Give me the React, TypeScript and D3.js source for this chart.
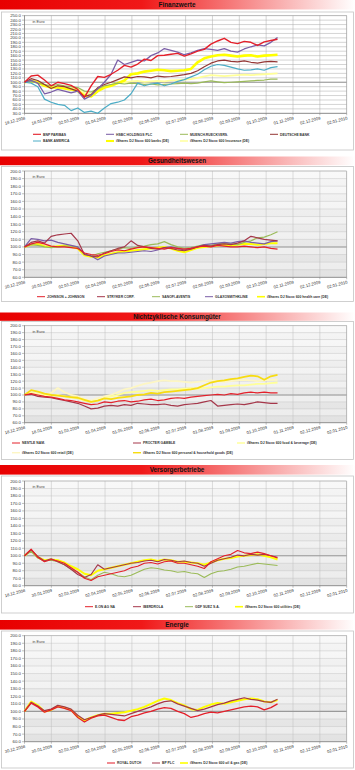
import React from 'react';
import * as d3 from 'd3';

// ---------- DATA ----------
const SAMPLE_STEP = 0.248; // months (x-axis tick units) between samples

const X_LABELS_1 = ["18.12.2008","18.01.2009","02.03.2009","01.04.2009","02.05.2009","02.06.2009","02.07.2009","02.08.2009","02.09.2009","01.10.2009","01.11.2009","02.12.2009","02.01.2010"];
const X_LABELS_2 = ["30.12.2008","30.01.2009","02.03.2009","02.04.2009","02.05.2009","02.06.2009","02.07.2009","02.08.2009","02.09.2009","02.10.2009","02.11.2009","02.12.2009","02.01.2010"];
const X_LABELS_3 = ["18.12.2008","18.01.2009","01.03.2009","01.04.2009","01.05.2009","02.06.2009","02.07.2009","01.08.2009","01.09.2009","01.10.2009","01.11.2009","02.12.2009","02.01.2010"];
const X_LABELS_4 = ["18.12.2008","30.01.2009","02.03.2009","02.04.2009","02.05.2009","02.06.2009","02.07.2009","02.08.2009","02.09.2009","02.10.2009","02.11.2009","02.12.2009","02.01.2010"];
const X_LABELS_5 = ["30.12.2008","30.01.2009","02.03.2009","02.04.2009","02.05.2009","02.06.2009","02.07.2009","02.08.2009","02.09.2009","02.10.2009","02.11.2009","02.12.2009","02.01.2010"];

// Finanzwerte
const BNP = [100,114,116,105,92,100,97,93,84,66,92,113,111,118,127,138,134,141,152,149,160,161,163,165,159,164,170,174,186,193,199,190,187,192,190,183,191,194,197];
const HSBC = [100,104,98,74,78,84,80,76,80,62,70,85,100,118,150,140,145,150,148,160,166,176,172,168,162,166,172,176,174,172,176,170,168,175,180,184,182,190,201];
const MUENCH = [100,102,98,95,92,95,92,90,88,80,78,85,92,95,98,96,98,97,95,96,94,95,96,97,98,97,98,101,103,101,99,100,101,102,103,104,105,107,107];
const DEUTSCHE = [100,108,104,95,86,92,90,85,80,68,72,88,95,100,106,112,110,113,112,110,114,112,113,115,117,120,126,135,143,148,150,147,146,148,145,143,146,147,146];
const BANKAM = [100,98,90,62,55,50,48,36,42,32,35,30,42,52,55,60,74,98,92,96,98,92,96,102,106,112,118,128,136,140,138,134,130,127,128,130,127,133,135];
const BANKS_ETF = [100,103,100,92,88,88,86,84,80,70,68,80,88,92,98,104,118,120,124,126,128,127,125,126,127,130,145,154,158,161,162,160,158,160,161,158,160,161,162];
const INSUR_ETF = [100,103,100,94,90,92,90,88,86,76,74,82,90,94,98,100,102,103,101,102,103,102,104,105,106,107,110,113,116,115,114,115,116,117,116,117,118,119,120];

// Gesundheitswesen
const JNJ = [100,104,106,104,101,100,100,99,98,92,90,89,91,94,96,95,97,99,100,99,98,97,99,98,97,98,100,101,100,102,101,100,100,101,100,99,100,98,97];
const STRYKER = [100,106,108,105,114,116,117,118,108,90,88,87,92,95,98,100,108,102,100,98,97,99,98,96,95,97,100,102,101,103,104,103,105,108,114,112,110,109,108];
const SANOFI = [100,103,102,100,99,100,101,101,100,90,88,91,93,95,97,99,98,100,101,103,104,107,103,100,98,99,101,103,102,104,105,104,103,106,108,112,113,116,120];
const GLAXO = [100,111,110,108,109,106,104,102,100,91,88,83,88,90,92,92,93,94,95,94,96,99,100,98,96,98,100,103,104,105,106,105,107,108,106,105,104,107,108];
const HEALTH_ETF = [100,103,104,101,100,101,102,100,98,89,87,86,89,91,93,94,95,96,97,98,99,100,98,95,93,96,99,100,101,102,103,102,103,104,104,103,104,105,105];

// Nichtzyklische Konsumgüter
const NESTLE = [100,102,100,98,97,95,93,92,90,88,86,87,90,89,91,92,90,91,93,94,92,93,95,96,95,97,98,99,100,101,100,102,101,103,104,103,104,103,103];
const PG = [100,101,98,97,96,94,92,90,88,84,80,81,84,85,84,86,85,88,87,86,86,87,85,84,86,87,88,90,92,84,85,86,87,86,88,90,89,88,88];
const FOOD_ETF = [100,103,101,100,99,100,98,96,95,92,90,92,95,98,100,103,104,105,106,107,106,107,108,108,109,110,109,110,111,112,112,113,114,114,115,116,116,117,118];
const RETAIL_ETF = [100,104,102,100,103,110,104,100,98,94,92,95,98,100,104,108,110,113,116,118,120,121,120,120,119,118,119,120,121,120,119,120,121,122,121,120,121,122,122];
const PERSONAL_ETF = [100,107,105,102,100,99,98,97,96,93,90,92,95,94,96,97,98,100,101,103,102,104,105,106,107,108,110,114,118,120,121,123,124,126,128,127,122,127,129];

// Versorgerbetriebe
const EON = [100,109,98,92,95,93,90,84,78,70,67,72,74,76,78,80,84,86,90,91,89,92,93,90,90,88,86,83,92,96,100,102,107,104,103,105,103,100,97];
const IBERDROLA = [100,108,99,93,96,92,88,82,75,71,75,88,82,84,86,88,90,91,93,94,92,95,94,92,93,91,90,86,90,94,96,98,101,100,102,101,102,100,98];
const GDF = [100,106,97,93,94,92,88,82,78,72,68,74,78,76,73,72,74,78,82,84,83,81,80,78,79,77,76,71,76,79,80,82,85,86,88,90,89,88,87];
const UTIL_ETF = [100,107,98,94,95,94,91,86,82,76,74,80,82,84,86,88,90,92,94,95,93,95,94,92,92,91,90,88,91,94,96,97,99,100,101,102,100,98,95];

// Energie
const SHELL = [100,111,106,99,102,106,104,101,92,86,91,94,95,92,89,88,93,95,98,100,103,105,104,100,97,92,94,97,99,98,100,102,104,106,107,106,102,105,110];
const BP = [100,112,107,101,103,108,106,103,95,89,92,95,97,96,95,94,97,100,103,106,110,113,114,110,107,104,101,103,106,109,111,114,116,118,116,115,113,112,116];
const OIL_ETF = [100,113,108,100,102,107,105,102,93,88,92,95,97,97,98,99,101,103,106,110,114,117,115,111,108,103,102,106,109,111,110,112,114,116,117,116,113,112,115];

// ---------- STYLE ----------
const RED = '#e4202b';
const MAROON = '#a5374a';
const BROWN = '#943634';
const PURPLE = '#7b5ea7';
const GREEN = '#9bbb59';
const TEAL = '#4bacc6';
const YELLOW = '#ffff00';
const GOLD = '#f7dc10';
const LIGHTY = '#ffff99';
const PALEY = '#fdf6c4';

type Series = { name: string; values: number[]; color: string; w: number; lx: number; row: number };

type PanelCfg = {
  title: string;
  headerTop: number; headerH: number;
  frameTop: number; frameBottom: number;
  plotTop: number; plotBottom: number;
  yMin: number; yMax: number;
  xLabels: string[];
  legendY: number[];
  white: boolean;
  series: Series[]; // draw order
  legendOrder: Series[];
};

const FONT = '"Liberation Sans", Arial, sans-serif';
const PLOT_L = 24.5, PLOT_R = 346.7;

function mk(name: string, values: number[], color: string, w: number, lx: number, row = 0): Series {
  return { name, values, color, w, lx, row };
}

const s1 = {
  bnp: mk('BNP PARIBAS', BNP, RED, 1.4, 33),
  hsbc: mk('HSBC HOLDINGS PLC', HSBC, PURPLE, 1.3, 106),
  mu: mk('MUENCH.RUECKVERS.', MUENCH, GREEN, 1.2, 180),
  db: mk('DEUTSCHE BANK', DEUTSCHE, BROWN, 1.2, 270),
  ba: mk('BANK AMERICA', BANKAM, TEAL, 1.2, 33, 1),
  banks: mk('iShares DJ Stoxx 600 banks (DE)', BANKS_ETF, YELLOW, 2.6, 106, 1),
  ins: mk('iShares DJ Stoxx 600 Insurance (DE)', INSUR_ETF, LIGHTY, 1.8, 180, 1),
};
const s2 = {
  jnj: mk('JOHNSON + JOHNSON', JNJ, RED, 1.2, 37),
  str: mk('STRYKER CORP.', STRYKER, MAROON, 1.2, 97),
  san: mk('SANOFI-AVENTIS', SANOFI, GREEN, 1.2, 152),
  gla: mk('GLAXOSMITHKLINE', GLAXO, PURPLE, 1.2, 205),
  hc: mk('iShares DJ Stoxx 600 health care (DE)', HEALTH_ETF, YELLOW, 2.0, 257),
};
const s3 = {
  ne: mk('NESTLE NAM.', NESTLE, RED, 1.2, 12),
  pg: mk('PROCTER GAMBLE', PG, MAROON, 1.2, 133),
  fb: mk('iShares DJ Stoxx 600 food & beverage (DE)', FOOD_ETF, LIGHTY, 1.8, 237),
  re: mk('iShares DJ Stoxx 600 retail (DE)', RETAIL_ETF, PALEY, 1.8, 12, 1),
  ph: mk('iShares DJ Stoxx 600 personal & household goods (DE)', PERSONAL_ETF, GOLD, 1.8, 133, 1),
};
const s4 = {
  eon: mk('E.ON AG NA', EON, RED, 1.2, 85),
  ib: mk('IBERDROLA', IBERDROLA, MAROON, 1.2, 133),
  gdf: mk('GDF SUEZ S.A.', GDF, GREEN, 1.2, 185),
  ut: mk('iShares DJ Stoxx 600 utilities (DE)', UTIL_ETF, YELLOW, 2.0, 235),
};
const s5 = {
  rd: mk('ROYAL DUTCH', SHELL, RED, 1.3, 107),
  bp: mk('BP PLC', BP, MAROON, 1.2, 152),
  og: mk('iShares DJ Stoxx 600 oil & gas (DE)', OIL_ETF, YELLOW, 2.0, 180),
};

const PANELS: PanelCfg[] = [
  { title: 'Finanzwerte', headerTop: 0, headerH: 9.5, frameTop: 12, frameBottom: 150, plotTop: 15.7, plotBottom: 113.3,
    yMin: 30, yMax: 250, xLabels: X_LABELS_1, legendY: [134.3, 141], white: true,
    series: [s1.ins, s1.banks, s1.mu, s1.ba, s1.db, s1.hsbc, s1.bnp],
    legendOrder: [s1.bnp, s1.hsbc, s1.mu, s1.db, s1.ba, s1.banks, s1.ins] },
  { title: 'Gesundheitswesen', headerTop: 156.5, headerH: 8.7, frameTop: 166.5, frameBottom: 301.5, plotTop: 171, plotBottom: 277.3,
    yMin: 60, yMax: 200, xLabels: X_LABELS_2, legendY: [296.7], white: false,
    series: [s2.hc, s2.san, s2.gla, s2.str, s2.jnj],
    legendOrder: [s2.jnj, s2.str, s2.san, s2.gla, s2.hc] },
  { title: 'Nichtzyklische Konsumgüter', headerTop: 312.5, headerH: 8.3, frameTop: 321.5, frameBottom: 459.5, plotTop: 325.7, plotBottom: 422.7,
    yMin: 60, yMax: 200, xLabels: X_LABELS_3, legendY: [443, 452.7], white: false,
    series: [s3.re, s3.fb, s3.ph, s3.pg, s3.ne],
    legendOrder: [s3.ne, s3.pg, s3.fb, s3.re, s3.ph] },
  { title: 'Versorgerbetriebe', headerTop: 465, headerH: 9.6, frameTop: 476, frameBottom: 613, plotTop: 481, plotBottom: 585.7,
    yMin: 60, yMax: 200, xLabels: X_LABELS_4, legendY: [606.7], white: false,
    series: [s4.ut, s4.gdf, s4.ib, s4.eon],
    legendOrder: [s4.eon, s4.ib, s4.gdf, s4.ut] },
  { title: 'Energie', headerTop: 620, headerH: 9.6, frameTop: 631, frameBottom: 768, plotTop: 635.7, plotBottom: 741.7,
    yMin: 60, yMax: 200, xLabels: X_LABELS_5, legendY: [763], white: false,
    series: [s5.og, s5.bp, s5.rd],
    legendOrder: [s5.rd, s5.bp, s5.og] },
];

function Panel({ p, idx }: { p: PanelCfg; idx: number }) {
  const x = d3.scaleLinear().domain([0, p.xLabels.length - 1]).range([PLOT_L, PLOT_R]);
  const y = d3.scaleLinear().domain([p.yMin, p.yMax]).range([p.plotBottom, p.plotTop]);
  const yTicks = d3.range(p.yMin, p.yMax + 0.001, 10);
  const xTicks = d3.range(0, p.xLabels.length);
  const line = d3.line<number>().x((_, i) => x(i * SAMPLE_STEP)).y(v => y(v));
  const gid = `hdr${idx}`;
  const bid = `bg${idx}`;
  return (
    <g>
      <defs>
        <linearGradient id={gid} x1="0" x2="1" y1="0" y2="0">
          <stop offset="0" stopColor="#e80000" />
          <stop offset="0.4" stopColor="#f01818" />
          <stop offset="0.75" stopColor="#f8a0a0" />
          <stop offset="1" stopColor="#ffffff" />
        </linearGradient>
        <linearGradient id={bid} x1="0" x2="0" y1="0" y2="1">
          <stop offset="0" stopColor="#f6f6f6" />
          <stop offset="1" stopColor="#e2e2e2" />
        </linearGradient>
      </defs>
      {/* header */}
      <rect x={0} y={p.headerTop} width={355} height={p.headerH} fill={`url(#${gid})`} />
      <text x={177} y={p.headerTop + p.headerH / 2 + 2.2} textAnchor="middle" fontFamily={FONT} fontWeight="bold" fontSize={6.4} fill="#111">{p.title}</text>
      {/* frame */}
      <rect x={1.5} y={p.frameTop} width={352} height={p.frameBottom - p.frameTop} fill="#ffffff" stroke="#c4c4c4" strokeWidth={0.8} />
      {/* plot background */}
      <rect x={PLOT_L} y={p.plotTop} width={PLOT_R - PLOT_L} height={p.plotBottom - p.plotTop}
        fill={p.white ? '#ffffff' : `url(#${bid})`} />
      {!p.white && yTicks.slice(0, -1).map((t, i) => i % 2 === 1 ? (
        <rect key={'b' + t} x={PLOT_L} y={y(t + 10)} width={PLOT_R - PLOT_L} height={y(t) - y(t + 10)} fill="#ffffff" opacity={0.35} />
      ) : null)}
      {/* gridlines */}
      {yTicks.map(t => (
        <line key={'gy' + t} x1={PLOT_L} x2={PLOT_R} y1={y(t)} y2={y(t)} stroke={p.white ? '#a8a8a8' : '#c6c6c6'} strokeWidth={0.5} />
      ))}
      {xTicks.map(t => (
        <line key={'gx' + t} x1={x(t)} x2={x(t)} y1={p.plotTop} y2={p.plotBottom} stroke={p.white ? '#a8a8a8' : '#bdbdbd'} strokeWidth={0.5} />
      ))}
      <line x1={PLOT_L} x2={PLOT_R} y1={y(100)} y2={y(100)} stroke="#9a9a9a" strokeWidth={1.1} />
      <rect x={PLOT_L} y={p.plotTop} width={PLOT_R - PLOT_L} height={p.plotBottom - p.plotTop} fill="none" stroke="#a0a0a0" strokeWidth={0.5} />
      {/* axes */}
      <line x1={PLOT_L} x2={PLOT_L} y1={p.plotTop} y2={p.plotBottom} stroke="#7f7f7f" strokeWidth={0.6} />
      <line x1={PLOT_L} x2={PLOT_R} y1={p.plotBottom} y2={p.plotBottom} stroke="#7f7f7f" strokeWidth={0.6} />
      {yTicks.map(t => (
        <g key={'yt' + t}>
          <line x1={PLOT_L - 2.5} x2={PLOT_L} y1={y(t)} y2={y(t)} stroke="#7f7f7f" strokeWidth={0.5} />
          <text x={PLOT_L - 3.6} y={y(t) + 1.5} textAnchor="end" fontFamily={FONT} fontSize={4.3} fill="#333">{t.toFixed(1)}</text>
        </g>
      ))}
      {xTicks.map(t => (
        <g key={'xt' + t}>
          <line x1={x(t)} x2={x(t)} y1={p.plotBottom} y2={p.plotBottom + 2} stroke="#7f7f7f" strokeWidth={0.5} />
          <text transform={`translate(${x(t) + 1},${p.plotBottom + 6}) rotate(-15)`} textAnchor="end" fontFamily={FONT} fontSize={4.2} fill="#333">{p.xLabels[t]}</text>
        </g>
      ))}
      <text x={PLOT_L + 8} y={p.plotTop + 7} fontFamily={FONT} fontSize={3.8} fill="#444">in Euro</text>
      {/* series */}
      {p.series.map(s => (
        <path key={s.name} d={line(s.values) || ''} fill="none" stroke={s.color} strokeWidth={s.w} strokeLinejoin="round" />
      ))}
      {/* legend */}
      {p.legendOrder.map(s => {
        const ly = p.legendY[s.row];
        return (
          <g key={'lg' + s.name}>
            <line x1={s.lx} x2={s.lx + 8} y1={ly} y2={ly} stroke={s.color} strokeWidth={Math.max(1, s.w * 0.8)} />
            <text x={s.lx + 10} y={ly + 1.2} fontFamily={FONT} fontSize={3.4} fontWeight="bold" fill="#333">{s.name}</text>
          </g>
        );
      })}
    </g>
  );
}

export default function App() {
  return (
    <svg width={355} height={770} style={{ position: 'absolute', left: 0, top: 0, background: '#ffffff' }}>
      <rect x={0} y={0} width={355} height={770} fill="#ffffff" />
      {PANELS.map((p, i) => <Panel key={p.title} p={p} idx={i} />)}
    </svg>
  );
}
